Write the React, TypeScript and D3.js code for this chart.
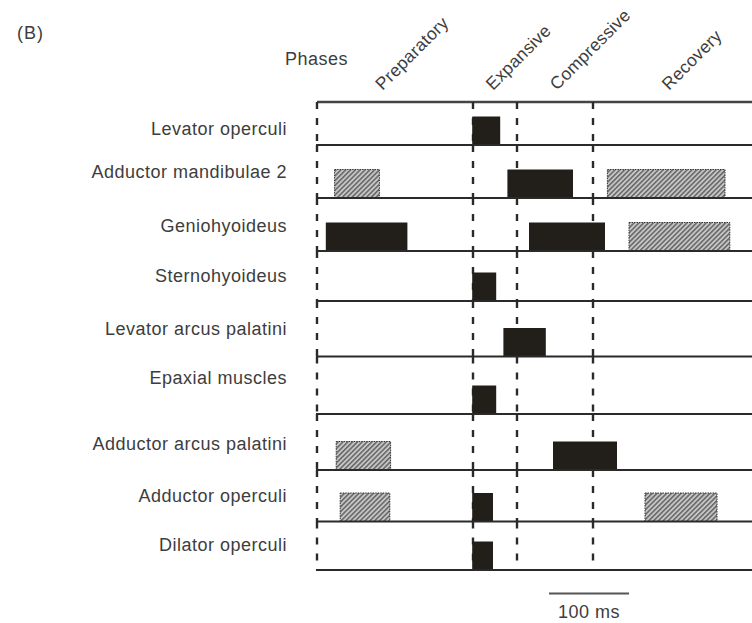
import React from "react";
import * as d3 from "d3";

// ---------- data ----------
const muscles = [
  "Levator operculi",
  "Adductor mandibulae 2",
  "Geniohyoideus",
  "Sternohyoideus",
  "Levator arcus palatini",
  "Epaxial muscles",
  "Adductor arcus palatini",
  "Adductor operculi",
  "Dilator operculi",
];

const phaseNames = ["Preparatory", "Expansive", "Compressive", "Recovery"];
// phase boundaries in ms (dashed verticals)
const phaseBoundaries = [0, 195, 250, 345];
// where each rotated phase label starts (ms)
const phaseLabelTimes = [82, 220, 300, 440];

// consistent EMG bursts: [muscle, start ms, end ms]
const activeBursts: [string, number, number][] = [
  ["Levator operculi", 194, 229],
  ["Adductor mandibulae 2", 238, 320],
  ["Geniohyoideus", 11, 113],
  ["Geniohyoideus", 265, 360],
  ["Sternohyoideus", 194, 224],
  ["Levator arcus palatini", 233, 286],
  ["Epaxial muscles", 194, 224],
  ["Adductor arcus palatini", 295, 375],
  ["Adductor operculi", 194, 220],
  ["Dilator operculi", 194, 220],
];

// variable (hatched) bursts: [muscle, start ms, end ms]
const variableBursts: [string, number, number][] = [
  ["Adductor mandibulae 2", 22, 78],
  ["Adductor mandibulae 2", 363, 510],
  ["Geniohyoideus", 390, 516],
  ["Adductor arcus palatini", 24, 92],
  ["Adductor operculi", 29, 91],
  ["Adductor operculi", 410, 500],
];

const scaleBarMs = [290, 390];
const scaleBarLabel = "100 ms";

// ---------- layout ----------
const W = 752;
const H = 623;
const TOP_LINE = 102;
const ROW_BASE = [145, 198, 251, 301, 356.5, 414, 470, 521.5, 570];
const LABEL_BASE = [134.5, 178, 231.5, 281.5, 335, 384, 450, 501.5, 550.5];
const BAR_H = 28.5;
const FONT = "'Liberation Sans', Arial, Helvetica, sans-serif";
const TEXT_COLOR = "#3d3d3d";
const INK = "#221e1a";

export default function App() {
  const x = d3.scaleLinear().domain([0, 600]).range([317, 317 + 480]);
  const rowIndex = d3.scaleOrdinal<string, number>().domain(muscles).range(d3.range(muscles.length));
  const yBase = d3.scaleLinear().domain(d3.range(muscles.length)).range(ROW_BASE);
  const baseOf = (m: string) => yBase(rowIndex(m));

  const rowTops = [TOP_LINE, ...ROW_BASE.slice(0, -1)];

  return (
    <svg
      width={W}
      height={H}
      style={{ position: "absolute", left: 0, top: 0, background: "#fff" }}
      fontFamily={FONT}
    >
      <defs>
        <pattern
          id="hatch"
          patternUnits="userSpaceOnUse"
          width={3.4}
          height={3.4}
          patternTransform="rotate(45)"
        >
          <rect width={3.4} height={3.4} fill="#c6c6c6" />
          <line x1={0.8} y1={0} x2={0.8} y2={3.4} stroke="#4a4a4a" strokeWidth={1.2} />
        </pattern>
      </defs>

      {/* panel letter */}
      <text x={17} y={39} fontSize={18} letterSpacing={1} fill={TEXT_COLOR}>
        (B)
      </text>

      {/* Phases heading */}
      <text x={285} y={65} fontSize={18} letterSpacing={0.5} fill={TEXT_COLOR}>
        Phases
      </text>

      {/* rotated phase labels */}
      {phaseNames.map((p, i) => (
        <text
          key={p}
          transform={`translate(${x(phaseLabelTimes[i])},91) rotate(-45)`}
          fontSize={17.5}
          letterSpacing={0.3}
          fill={TEXT_COLOR}
        >
          {p}
        </text>
      ))}

      {/* top line */}
      <line x1={x(0)} x2={W + 10} y1={TOP_LINE} y2={TOP_LINE} stroke="#444" strokeWidth={2.5} />

      {/* dashed phase boundaries, per row */}
      {rowTops.map((top, i) =>
        phaseBoundaries.map((b) => (
          <line
            key={`d${i}-${b}`}
            x1={x(b)}
            x2={x(b)}
            y1={top}
            y2={ROW_BASE[i]}
            stroke="#2a2a2a"
            strokeWidth={2.4}
            strokeDasharray="7 9"
          />
        ))
      )}

      {/* hatched bursts */}
      {variableBursts.map(([m, s, e], i) => (
        <rect
          key={`v${i}`}
          x={x(s)}
          y={baseOf(m) - BAR_H}
          width={x(e) - x(s)}
          height={BAR_H}
          fill="url(#hatch)"
          stroke="#333"
          strokeWidth={1}
          strokeDasharray="1.5 1"
        />
      ))}

      {/* active bursts */}
      {activeBursts.map(([m, s, e], i) => (
        <rect
          key={`a${i}`}
          x={x(s)}
          y={baseOf(m) - BAR_H}
          width={x(e) - x(s)}
          height={BAR_H}
          fill={INK}
        />
      ))}

      {/* row baselines */}
      {muscles.map((m) => (
        <line
          key={`b${m}`}
          x1={x(0) - 1}
          x2={W + 10}
          y1={baseOf(m)}
          y2={baseOf(m)}
          stroke="#2a2a2a"
          strokeWidth={2.2}
        />
      ))}

      {/* row labels */}
      {muscles.map((m, i) => (
        <text
          key={`l${m}`}
          x={287}
          y={LABEL_BASE[i]}
          textAnchor="end"
          fontSize={18}
          letterSpacing={0.5}
          fill={TEXT_COLOR}
        >
          {m}
        </text>
      ))}

      {/* scale bar */}
      <line
        x1={x(scaleBarMs[0])}
        x2={x(scaleBarMs[1])}
        y1={593.5}
        y2={593.5}
        stroke="#555"
        strokeWidth={2.2}
      />
      <text
        x={(x(scaleBarMs[0]) + x(scaleBarMs[1])) / 2}
        y={618}
        textAnchor="middle"
        fontSize={18}
        letterSpacing={0.5}
        fill={TEXT_COLOR}
      >
        {scaleBarLabel}
      </text>
    </svg>
  );
}
